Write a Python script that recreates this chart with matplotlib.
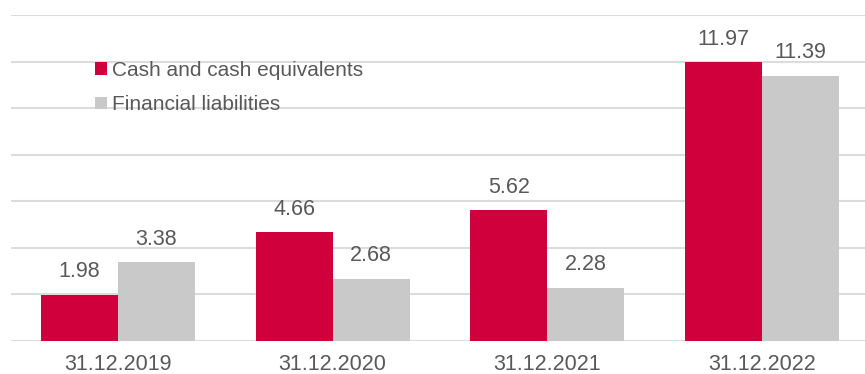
import matplotlib.pyplot as plt
import numpy as np

plt.rcParams['font.family'] = ['Liberation Sans', 'DejaVu Sans']

dates = ['31.12.2019', '31.12.2020', '31.12.2021', '31.12.2022']
cash = [1.98, 4.66, 5.62, 11.97]
liabilities = [3.38, 2.68, 2.28, 11.39]

RED = '#D0003C'
GRAY = '#C9C9C9'
TEXT = '#595959'
GRID = '#DCDCDC'

fig = plt.figure(figsize=(8.65, 3.74), dpi=100)
ax = fig.add_axes([10.5 / 865, 1 - 341 / 374, 859 / 865, (341 - 15) / 374])

x = np.arange(len(dates))
w = 0.358
b1 = ax.bar(x - w / 2, cash, w, color=RED, label='Cash and cash equivalents', zorder=3)
b2 = ax.bar(x + w / 2, liabilities, w, color=GRAY, label='Financial liabilities', zorder=3)

for bars in (b1, b2):
    for rect in bars:
        h = rect.get_height()
        ax.annotate(f'{h:.2f}', (rect.get_x() + rect.get_width() / 2, h),
                    xytext=(0, 9), textcoords='offset points',
                    ha='center', va='bottom', fontsize=15.5, color=TEXT)

ax.set_ylim(0, 14)
ax.set_yticks(np.arange(0, 15, 2))
ax.set_xlim(-0.5, 3.5)
ax.set_xticks(x)
ax.set_xticklabels(dates, fontsize=15.5, color=TEXT)
ax.tick_params(axis='x', length=0, pad=9)
ax.tick_params(axis='y', length=0, labelleft=False)
ax.grid(axis='y', color=GRID, linewidth=1.5, zorder=0)
for s in ax.spines.values():
    s.set_visible(False)

leg = ax.legend(loc='upper left', bbox_to_anchor=(0.089, 0.885), frameon=False,
                fontsize=15, handlelength=0.55, handleheight=0.55,
                handletextpad=0.25, labelspacing=0.75, labelcolor=TEXT,
                borderaxespad=0)

fig.savefig('out.png', dpi=100)
